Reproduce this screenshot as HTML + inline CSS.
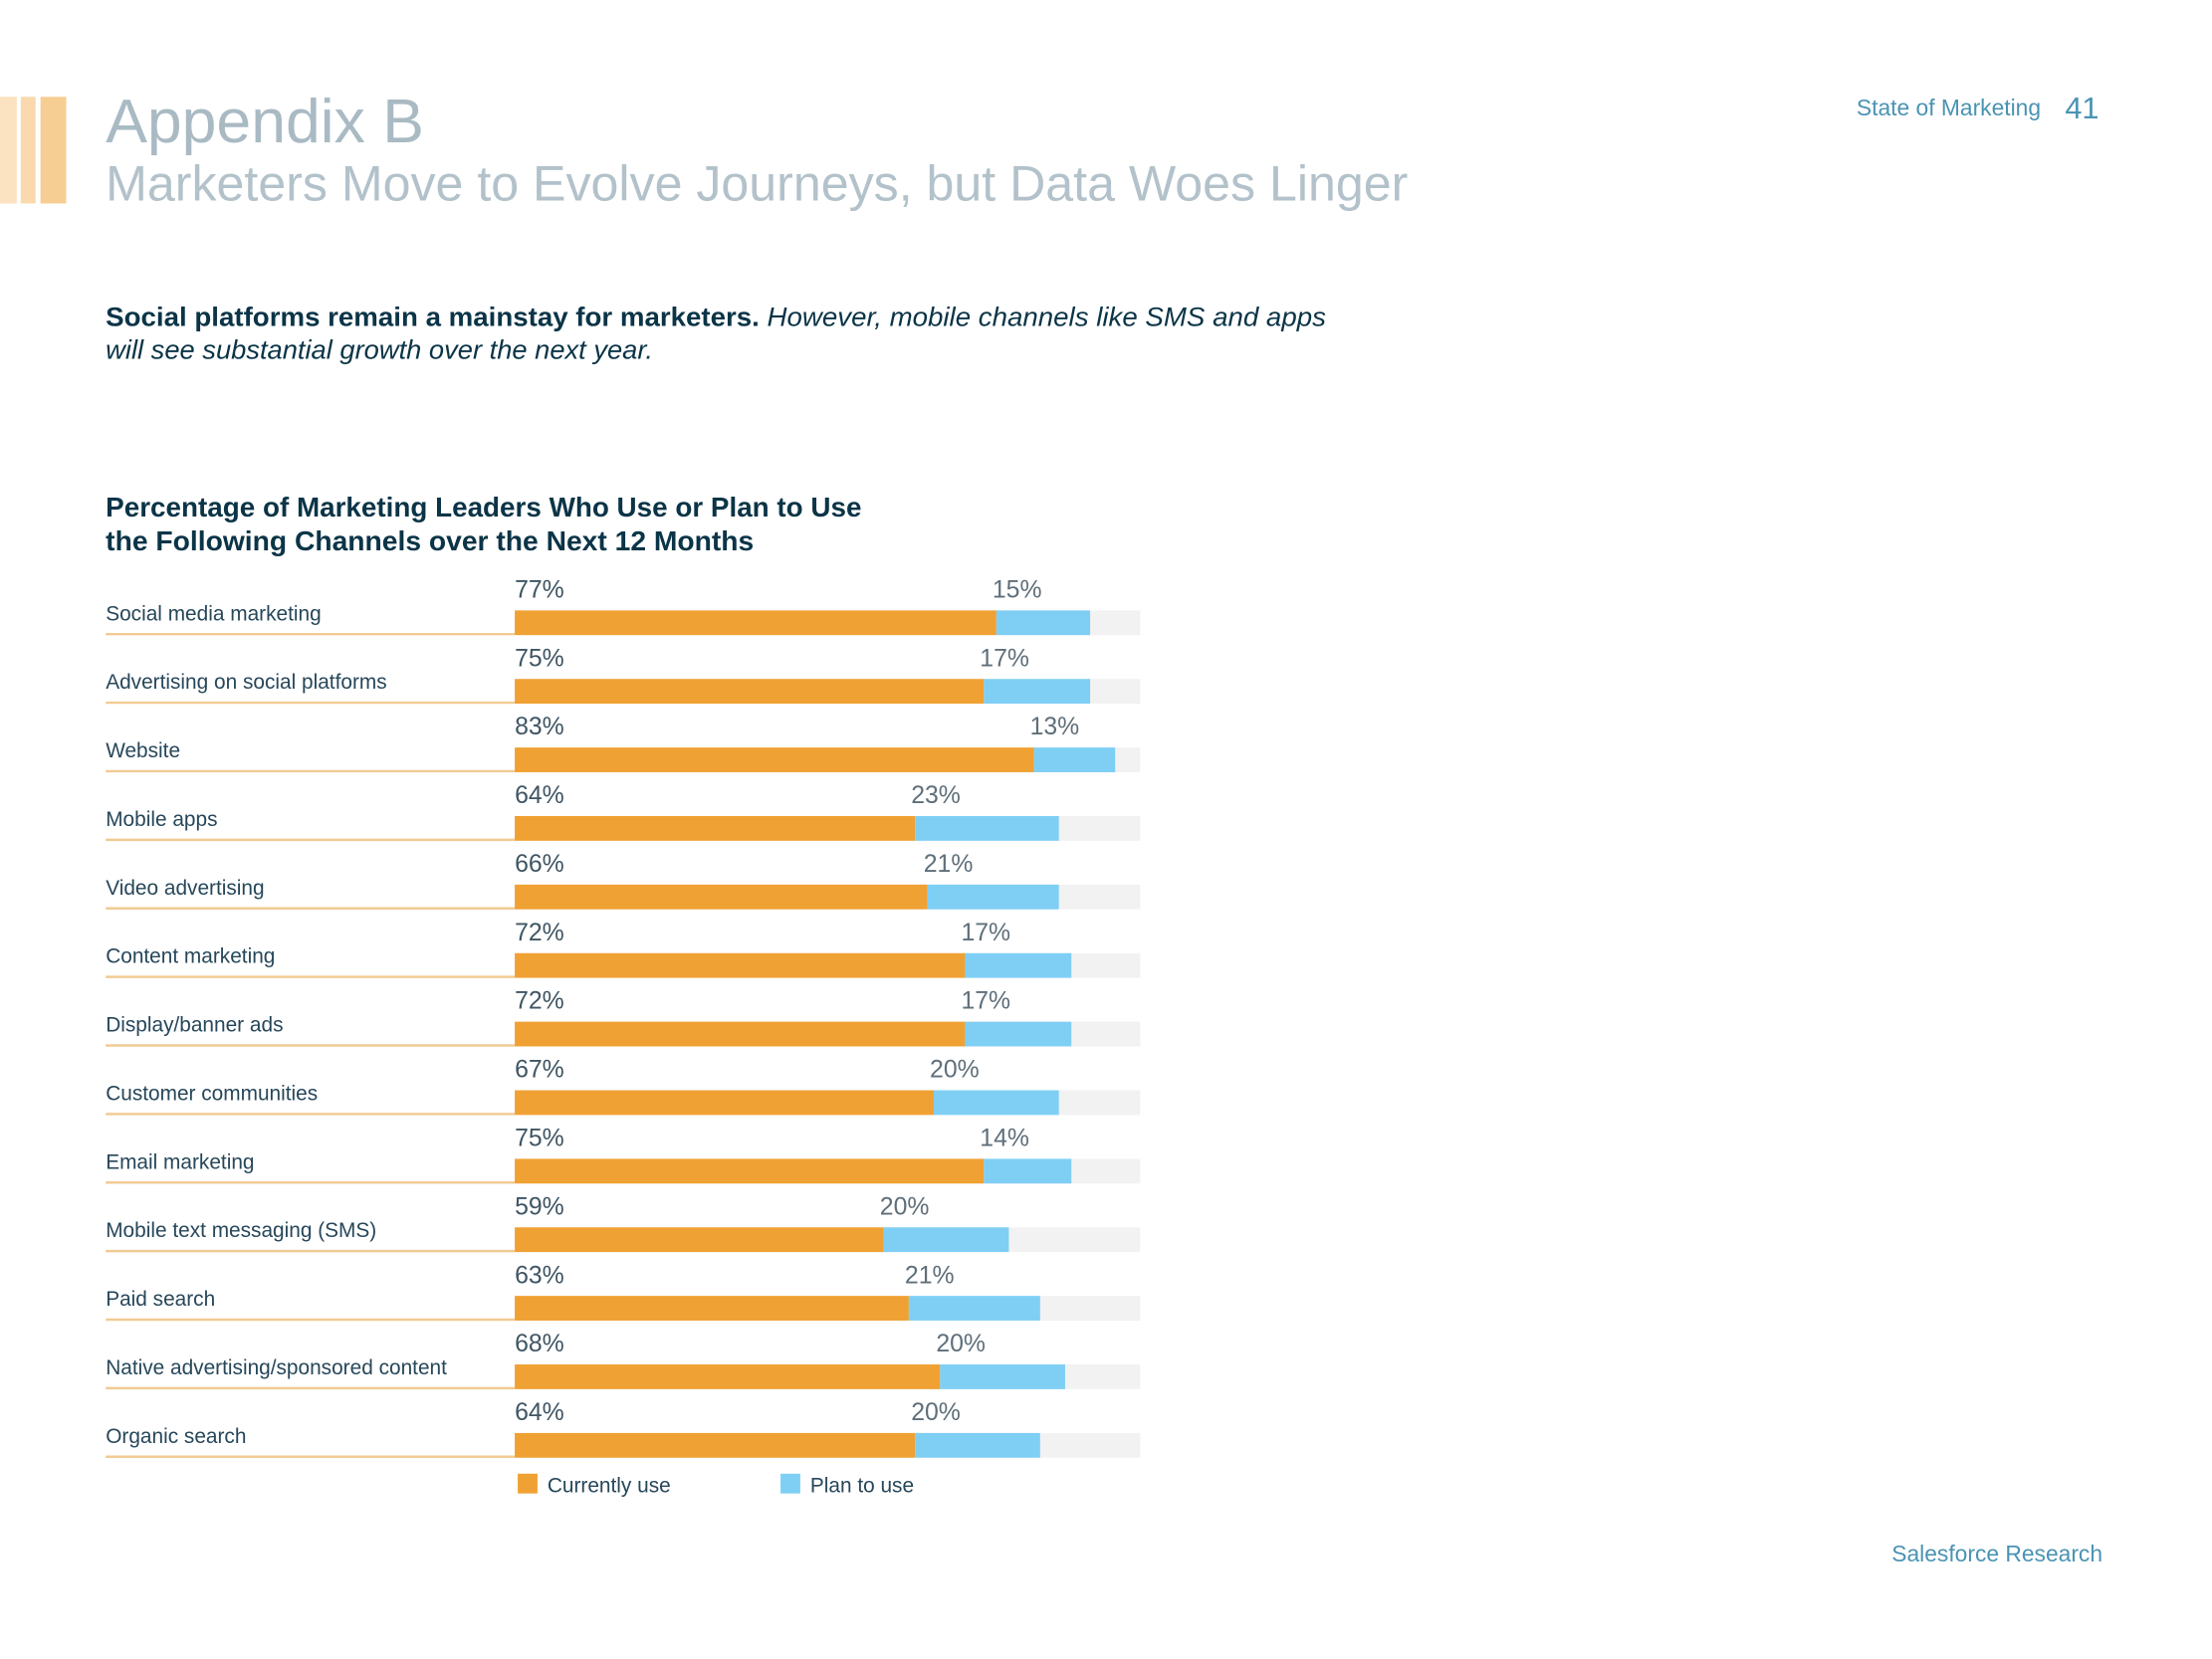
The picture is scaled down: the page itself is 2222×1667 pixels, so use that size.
<!DOCTYPE html>
<html><head><meta charset="utf-8"><style>
html,body{margin:0;padding:0;background:#fff;}
svg{display:block;font-family:"Liberation Sans",sans-serif;}
</style></head><body>
<svg id="chart" width="2222" height="1667" viewBox="0 0 2222 1667" xmlns="http://www.w3.org/2000/svg">
 <g transform="scale(0.9925)">
  <g>
    <rect x="0" y="98" width="17" height="108" fill="#fbe2c1"/>
    <rect x="21" y="98" width="15" height="108" fill="#f9d9ad"/>
    <rect x="41" y="98" width="26" height="108" fill="#f6cd93"/>
  </g>
  <text x="107" y="144" font-size="63" fill="#a9bac3">Appendix B</text>
  <text x="107" y="203" font-size="50" fill="#b3c2ca" textLength="1318" lengthAdjust="spacingAndGlyphs">Marketers Move to Evolve Journeys, but Data Woes Linger</text>
  <text x="1879" y="117" font-size="23" fill="#4a93b3">State of Marketing</text>
  <text x="2090" y="120" font-size="31" fill="#4a93b3">41</text>

  <text x="107" y="330" font-size="27" fill="#0b3447" textLength="1235" lengthAdjust="spacingAndGlyphs"><tspan font-weight="bold">Social platforms remain a mainstay for marketers.</tspan><tspan font-style="italic"> However, mobile channels like SMS and apps</tspan></text>
  <text x="107" y="363" font-size="27" fill="#0b3447" font-style="italic" textLength="554" lengthAdjust="spacingAndGlyphs">will see substantial growth over the next year.</text>

  <text x="107" y="523" font-size="28" font-weight="bold" fill="#0b3447" textLength="765" lengthAdjust="spacingAndGlyphs">Percentage of Marketing Leaders Who Use or Plan to Use</text>
  <text x="107" y="557" font-size="28" font-weight="bold" fill="#0b3447" textLength="656" lengthAdjust="spacingAndGlyphs">the Following Channels over the Next 12 Months</text>

  <g id="bars"></g>

  <g>
    <rect x="524" y="1492" width="20" height="20" fill="#f0a133"/>
    <text x="554" y="1511" font-size="21" fill="#27475a">Currently use</text>
    <rect x="790" y="1492" width="20" height="20" fill="#7fcff5"/>
    <text x="820" y="1511" font-size="21" fill="#27475a">Plan to use</text>
  </g>

  <text x="2128" y="1581" font-size="23" fill="#4a93b3" text-anchor="end">Salesforce Research</text>
 </g>
</svg>
<script>
const categories = ["Social media marketing","Advertising on social platforms","Website","Mobile apps","Video advertising","Content marketing","Display/banner ads","Customer communities","Email marketing","Mobile text messaging (SMS)","Paid search","Native advertising/sponsored content","Organic search"];
const currentUse = [77,75,83,64,66,72,72,67,75,59,63,68,64];
const planToUse = [15,17,13,23,21,17,17,20,14,20,21,20,20];

const NS = "http://www.w3.org/2000/svg";
const g = document.getElementById("bars");
const x0 = 521, fullW = 633, top0 = 618, rowH = 69.4, barH = 25;
function xScale(v){ return x0 + v / 100 * fullW; }
function yRow(i){ return top0 + i * rowH; }
function mk(tag, attrs){ const e = document.createElementNS(NS, tag); for (const k in attrs) e.setAttribute(k, attrs[k]); g.appendChild(e); return e; }

categories.forEach((cat, i) => {
  const y = yRow(i);
  const c = currentUse[i], p = planToUse[i];
  let e;
  e = mk("rect", {x: x0, y: y, width: fullW, height: barH, fill: "#f2f2f2"});
  
  
  e = mk("line", {x1: 107, x2: x0, y1: y + barH - 1, y2: y + barH - 1, stroke: "#f1cb94", "stroke-width": 2.5});
  
  
  e = mk("rect", {x: x0, y: y, width: xScale(c) - x0, height: barH, fill: "#f0a133"});
  
  
  e = mk("rect", {x: xScale(c), y: y, width: xScale(c + p) - xScale(c), height: barH, fill: "#7fcff5"});
  
  
  e = mk("text", {x: 107, y: y + 10, "font-size": 21, fill: "#27475a"});
  e.textContent = cat;
  
  
  e = mk("text", {x: x0, y: y - 13, "font-size": 25, fill: "#3f5563"});
  e.textContent = c + "%";
  
  
  e = mk("text", {x: xScale(c) - 4, y: y - 13, "font-size": 25, fill: "#5f6f7a"});
  e.textContent = p + "%";
  
  
});
</script>
</body></html>
